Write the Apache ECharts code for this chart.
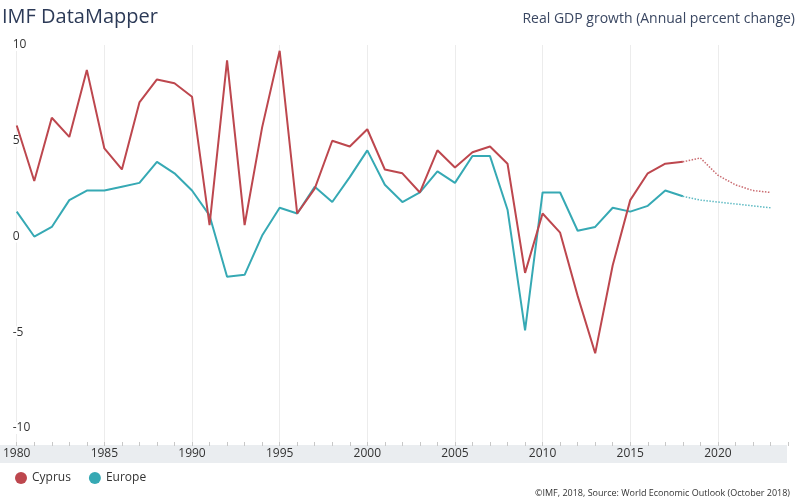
<!DOCTYPE html>
<html>
<head>
<meta charset="utf-8">
<script src="https://cdn.jsdelivr.net/npm/echarts@6/dist/echarts.min.js"></script>
<style>html,body{margin:0;padding:0;background:#fff}#c{width:800px;height:500px}</style>
</head>
<body>
<div id="c"></div>
<script>
// Data
var yearsActual = [1980,1981,1982,1983,1984,1985,1986,1987,1988,1989,1990,1991,1992,1993,1994,1995,1996,1997,1998,1999,2000,2001,2002,2003,2004,2005,2006,2007,2008,2009,2010,2011,2012,2013,2014,2015,2016,2017,2018];
var yearsProj = [2018,2019,2020,2021,2022,2023];
var cyprus = [5.8,2.9,6.2,5.2,8.7,4.6,3.5,7.0,8.2,8.0,7.3,0.6,9.2,0.6,5.7,9.7,1.2,2.5,5.0,4.7,5.6,3.5,3.3,2.3,4.5,3.6,4.4,4.7,3.8,-1.9,1.2,0.2,-3.1,-6.1,-1.5,1.9,3.3,3.8,3.9];
var cyprusProj = [3.9,4.1,3.2,2.7,2.4,2.3];
var europe = [1.3,0.0,0.5,1.9,2.4,2.4,2.6,2.8,3.9,3.3,2.4,1.1,-2.1,-2.0,0.05,1.5,1.2,2.6,1.8,3.1,4.5,2.7,1.8,2.3,3.4,2.8,4.2,4.2,1.4,-4.9,2.3,2.3,0.3,0.5,1.5,1.3,1.6,2.4,2.1];
var europeProj = [2.1,1.9,1.8,1.7,1.6,1.5];
var yTicks = [-10,-5,0,5,10];

function pairs(xs, ys){ return xs.map(function(x,i){ return [x, ys[i]]; }); }

var RED = '#bd474e', TEAL = '#36a9b4';
var FONT = '"Open Sans", "DejaVu Sans", sans-serif';

var chart = echarts.init(document.getElementById('c'));
chart.setOption({
  animation: false,
  textStyle: { fontFamily: FONT },
  title: [
    { text: 'IMF DataMapper', left: -3, top: 2, textStyle: { fontSize: 20, fontWeight: 'normal', color: '#2c3a57', fontFamily: FONT } },
    { text: 'Real GDP growth (Annual percent change)', right: 0, top: 7, textStyle: { fontSize: 14, fontWeight: 'normal', color: '#3a4762', fontFamily: FONT } },
    { text: '©IMF, 2018, Source: World Economic Outlook (October 2018)', right: 5, top: 484, textStyle: { fontSize: 9, fontWeight: 'normal', color: '#333', fontFamily: FONT } }
  ],
  legend: {
    data: ['Cyprus', 'Europe'],
    left: 10, top: 467, icon: 'circle', itemWidth: 12, itemHeight: 12, itemGap: 18,
    textStyle: { fontSize: 12, color: '#333', fontFamily: FONT }
  },
  graphic: [
    { type: 'rect', z: -10, shape: { x: 0, y: 445, width: 787, height: 18 }, style: { fill: '#eaedf0' }, silent: true }
  ],
  grid: { left: 16, right: 12, top: 45, bottom: 58, containLabel: false },
  xAxis: {
    type: 'value', min: 1980, max: 2024, interval: 5,
    axisLine: { show: false, onZero: false },
    axisTick: { show: true, length: 4, lineStyle: { color: '#c8c8c8' } },
    minorTick: { show: true, splitNumber: 5, length: 4, lineStyle: { color: '#c8c8c8' } },
    axisLabel: { margin: 6, fontSize: 12, color: '#333', fontFamily: FONT, showMaxLabel: false, formatter: function(v){ return v <= 2020 ? String(v) : ''; } },
    splitLine: { show: true, showMaxLine: false, lineStyle: { color: '#ececec', width: 1 } }
  },
  yAxis: {
    type: 'value', min: -10.73, max: 10,
    axisLine: { show: false }, axisTick: { show: false },
    splitLine: { show: false },
    axisLabel: { customValues: yTicks, inside: true, margin: -4, fontSize: 12, color: '#333', fontFamily: FONT, backgroundColor: '#fff', verticalAlign: 'middle' }
  },
  series: [
    { name: 'Cyprus', type: 'line', data: pairs(yearsActual, cyprus), showSymbol: false, symbol: 'none', lineStyle: { color: RED, width: 2 }, itemStyle: { color: RED }, z: 3 },
    { name: 'Cyprus', type: 'line', data: pairs(yearsProj, cyprusProj), showSymbol: false, symbol: 'none', lineStyle: { color: RED, width: 1.5, type: 'dotted', opacity: 0.8 }, itemStyle: { color: RED }, z: 3 },
    { name: 'Europe', type: 'line', data: pairs(yearsActual, europe), showSymbol: false, symbol: 'none', lineStyle: { color: TEAL, width: 2 }, itemStyle: { color: TEAL }, z: 2 },
    { name: 'Europe', type: 'line', data: pairs(yearsProj, europeProj), showSymbol: false, symbol: 'none', lineStyle: { color: TEAL, width: 1.5, type: 'dotted', opacity: 0.8 }, itemStyle: { color: TEAL }, z: 2 }
  ]
});
</script>
</body>
</html>
